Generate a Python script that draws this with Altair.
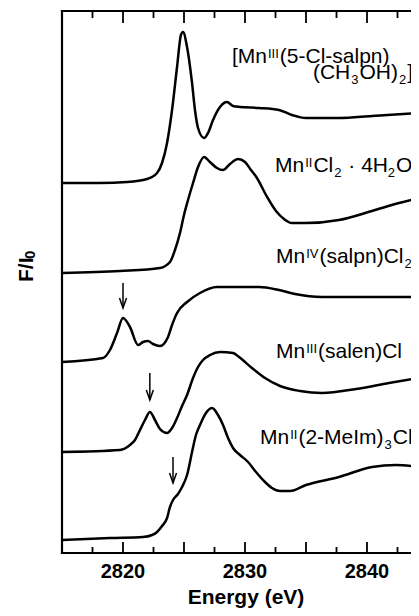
import altair as alt
import pandas as pd

# ---------------- scales / layout ----------------
PX_PER_X = 12.2
W, H = 349, 542
X_MIN = 2815.0
X_MAX = X_MIN + W / PX_PER_X
Y_MIN, Y_MAX = 0.0, 5.42
PX_PER_Y = H / (Y_MAX - Y_MIN)

# ---------------- spectra (energy eV, stacked F/I0) ----------------
names = ["[MnIII(5-Cl-salpn)(CH3OH)2]+", "MnIICl2·4H2O", "MnIV(salpn)Cl2",
         "MnIII(salen)Cl", "MnII(2-MeIm)3Cl2"]

e1 = [2815.00, 2818.11, 2820.33, 2821.97, 2822.79, 2823.20, 2823.61, 2824.02, 2824.43,
      2824.75, 2824.92, 2825.25, 2825.66, 2825.90, 2826.15, 2826.64, 2826.97, 2827.38,
      2827.95, 2828.52, 2829.02, 2829.59, 2831.15, 2832.79, 2833.85, 2835.00, 2837.70,
      2840.41, 2844.26]
f1 = [3.70, 3.70, 3.71, 3.74, 3.80, 3.90, 4.10, 4.43, 4.86, 5.18, 5.21, 5.06, 4.70, 4.43,
      4.25, 4.15, 4.20, 4.33, 4.46, 4.51, 4.47, 4.46, 4.45, 4.43, 4.38, 4.35, 4.35, 4.37, 4.40]

e2 = [2815.00, 2819.75, 2823.03, 2823.85, 2824.26, 2824.67, 2825.00, 2825.33, 2825.74,
      2826.15, 2826.64, 2827.13, 2827.70, 2828.20, 2828.77, 2829.43, 2830.00, 2830.49,
      2830.98, 2831.72, 2832.54, 2833.20, 2833.85, 2835.00, 2837.70, 2840.41, 2842.62,
      2844.26]
f2 = [2.80, 2.82, 2.85, 2.91, 3.03, 3.20, 3.38, 3.53, 3.70, 3.86, 3.96, 3.91, 3.85, 3.83,
      3.89, 3.94, 3.91, 3.83, 3.75, 3.58, 3.42, 3.34, 3.30, 3.30, 3.33, 3.42, 3.50, 3.55]

e3 = [2815.00, 2818.36, 2818.93, 2819.51, 2820.00, 2820.57, 2821.23, 2821.64, 2822.05,
      2822.46, 2823.03, 2823.69, 2824.02, 2824.43, 2825.25, 2826.31, 2827.70, 2829.59,
      2831.15, 2832.79, 2834.10, 2836.31, 2844.26]
f3 = [1.91, 1.95, 2.03, 2.20, 2.35, 2.26, 2.08, 2.11, 2.12, 2.09, 2.07, 2.16, 2.28, 2.40,
      2.51, 2.60, 2.66, 2.66, 2.66, 2.63, 2.59, 2.56, 2.56]

e4 = [2815.00, 2819.75, 2820.57, 2820.98, 2821.39, 2821.80, 2822.21, 2822.62, 2823.03,
      2823.61, 2824.02, 2824.43, 2824.84, 2825.25, 2825.74, 2826.15, 2826.56, 2827.13,
      2827.95, 2829.02, 2829.51, 2830.57, 2831.64, 2832.87, 2834.51, 2836.31, 2839.10,
      2841.80, 2844.26]
f4 = [1.01, 1.03, 1.08, 1.13, 1.23, 1.33, 1.41, 1.33, 1.24, 1.20, 1.25, 1.35, 1.47, 1.58,
      1.75, 1.86, 1.93, 1.98, 2.01, 2.00, 1.96, 1.85, 1.75, 1.67, 1.62, 1.60, 1.64, 1.70, 1.75]

e5 = [2815.00, 2818.93, 2821.64, 2822.38, 2822.79, 2823.20, 2823.61, 2823.85, 2824.10,
      2824.51, 2824.84, 2825.25, 2825.66, 2825.98, 2826.31, 2826.80, 2827.30, 2827.79,
      2828.20, 2828.61, 2829.02, 2829.59, 2830.25, 2830.90, 2831.64, 2832.21, 2832.87,
      2833.69, 2835.00, 2837.70, 2840.41, 2842.38, 2844.26]
f5 = [0.13, 0.15, 0.16, 0.18, 0.21, 0.27, 0.35, 0.46, 0.53, 0.59, 0.66, 0.78, 1.01, 1.18,
      1.28, 1.40, 1.45, 1.38, 1.28, 1.15, 1.05, 0.98, 0.91, 0.81, 0.71, 0.65, 0.62, 0.62,
      0.68, 0.76, 0.86, 0.88, 0.86]

# ---------------- arrows (pre-edge features) ----------------
arrow_e = [2820.0, 2822.2, 2824.1]
arrow_top = [2.70, 1.80, 0.96]
arrow_tip = [2.45, 1.53, 0.70]

# ---------------- ticks ----------------
major_ticks = [2820, 2825, 2830, 2835, 2840]
minor_ticks = [2817.5, 2822.5, 2827.5, 2832.5, 2837.5, 2842.5]
tick_labels = [2820, 2830, 2840]
x_title = "Energy (eV)"

# ---------------- curve labels (0 normal, 1 superscript, -1 subscript) ----------------
label_x = [2828.93, 2835.57, 2832.46, 2832.54, 2832.54, 2831.23]
label_y = [4.90, 4.74, 3.81, 2.90, 1.95, 1.09]
label_parts = [
    [("[Mn", 0), ("III", 1), ("(5-Cl-salpn)", 0)],
    [("(CH", 0), ("3", -1), ("OH)", 0), ("2", -1), ("]", 0), ("+", 1)],
    [("Mn", 0), ("II", 1), ("Cl", 0), ("2", -1), (" · 4H", 0), ("2", -1), ("O", 0)],
    [("Mn", 0), ("IV", 1), ("(salpn)Cl", 0), ("2", -1)],
    [("Mn", 0), ("III", 1), ("(salen)Cl", 0)],
    [("Mn", 0), ("II", 1), ("(2-MeIm)", 0), ("3", -1), ("Cl", 0), ("2", -1)],
]

FS, FS_SMALL = 21, 13
SHIFT = {0: 0.0, 1: 5.5, -1: -4.5}
GAP = 1.0

AW = {'[': 278, ']': 278, 'M': 833, 'n': 556, 'I': 278, '(': 333, ')': 333, '5': 556,
      '-': 333, 'C': 722, 'l': 222, 's': 500, 'a': 556, 'p': 556, 'H': 722, '3': 556,
      'O': 778, '2': 556, '+': 584, '·': 278, ' ': 278, '4': 556, 'V': 667, 'e': 556,
      'm': 833, 'F': 611, '/': 278}


def text_width(s, size):
    return sum(AW.get(c, 556) for c in s) * size / 1000.0


seg_rows = []
for lx, ly, parts in zip(label_x, label_y, label_parts):
    cum = 0.0
    for txt, kind in parts:
        size = FS if kind == 0 else FS_SMALL
        stripped = txt.lstrip(" ")
        cum += text_width(txt[:len(txt) - len(stripped)], size)
        if kind != 0:
            cum += GAP
        seg_rows.append({"energy": lx + cum / PX_PER_X,
                         "f": ly + SHIFT[kind] / PX_PER_Y,
                         "txt": stripped, "size": size})
        cum += text_width(stripped, size)
        if kind != 0:
            cum += GAP
segments = pd.DataFrame(seg_rows)

# ---------------- data frames ----------------
rows = []
for nm, es, fs in zip(names, [e1, e2, e3, e4, e5], [f1, f2, f3, f4, f5]):
    for i, (e, f) in enumerate(zip(es, fs)):
        rows.append({"series": nm, "order": i, "energy": e, "f": f})
curves = pd.DataFrame(rows)

arrows = pd.DataFrame({"energy": arrow_e, "top": arrow_top, "tip": arrow_tip})
majors = pd.DataFrame({"energy": major_ticks})
minors = pd.DataFrame({"energy": minor_ticks})
tlabels = pd.DataFrame({"energy": tick_labels, "txt": [str(t) for t in tick_labels]})
one = pd.DataFrame({"a": [0]})

xs = alt.Scale(domain=[X_MIN, X_MAX], nice=False, zero=False)
ys = alt.Scale(domain=[Y_MIN, Y_MAX], nice=False, zero=False)

FONT = "Liberation Sans"

lines = alt.Chart(curves).mark_line(
    color="black", strokeWidth=2.5, interpolate="monotone"
).encode(
    x=alt.X("energy:Q", scale=xs, axis=None),
    y=alt.Y("f:Q", scale=ys, axis=None),
    detail="series:N",
    order="order:Q",
)

shafts = alt.Chart(arrows).mark_rule(color="black", strokeWidth=1.5).encode(
    x=alt.X("energy:Q", scale=xs, axis=None),
    y=alt.Y("top:Q", scale=ys, axis=None),
    y2="tip:Q",
)
heads = alt.Chart(arrows).mark_point(
    shape="M-0.35,-1L0,0L0.35,-1", size=400, filled=False, color="black",
    strokeWidth=1.5, opacity=1
).encode(
    x=alt.X("energy:Q", scale=xs, axis=None),
    y=alt.Y("tip:Q", scale=ys, axis=None),
)

labels = alt.Chart(segments).mark_text(
    align="left", baseline="alphabetic", font=FONT, color="black"
).encode(
    x=alt.X("energy:Q", scale=xs, axis=None),
    y=alt.Y("f:Q", scale=ys, axis=None),
    text="txt:N",
    size=alt.Size("size:Q", scale=None),
)

xtick_text = alt.Chart(tlabels).mark_text(
    align="center", baseline="alphabetic", font=FONT, fontWeight="bold",
    fontSize=20, color="black"
).encode(
    x=alt.X("energy:Q", scale=xs, axis=None),
    y=alt.value(H + 25),
    text="txt:N",
)

xtitle = alt.Chart(one).mark_text(
    align="center", baseline="alphabetic", font=FONT, fontWeight="bold",
    fontSize=21, color="black", text=x_title
).encode(x=alt.value(184), y=alt.value(H + 51))

ytitle = alt.Chart(pd.DataFrame({
    "px": [-29, -27], "py": [271, 271 - text_width("F/I", 21) + 1.5],
    "txt": ["F/I", "0"], "size": [21, 15]})).mark_text(
    align="left", baseline="alphabetic", font=FONT, fontWeight="bold",
    angle=270, color="black"
).encode(
    x=alt.X("px:Q", scale=None, axis=None),
    y=alt.Y("py:Q", scale=None, axis=None),
    text="txt:N",
    size=alt.Size("size:Q", scale=None),
)

FW = 2.2
frame_top = alt.Chart(one).mark_rule(color="black", strokeWidth=FW, strokeCap="square").encode(
    x=alt.value(0), x2=alt.value(W + 2), y=alt.value(0))
frame_left = alt.Chart(one).mark_rule(color="black", strokeWidth=FW, strokeCap="square").encode(
    x=alt.value(0), y=alt.value(0), y2=alt.value(H))
frame_bottom = alt.Chart(one).mark_rule(color="black", strokeWidth=FW, strokeCap="square").encode(
    x=alt.value(0), x2=alt.value(W + 2), y=alt.value(H))


def tick_layer(df, y0, y1):
    return alt.Chart(df).mark_rule(color="black", strokeWidth=1.8).encode(
        x=alt.X("energy:Q", scale=xs, axis=None),
        y=alt.value(y0), y2=alt.value(y1))


ticks = [tick_layer(majors, H, H - 11), tick_layer(minors, H, H - 6),
         tick_layer(majors, 0, 12), tick_layer(minors, 0, 7)]

chart = alt.layer(
    lines, shafts, heads, labels, xtick_text, xtitle, ytitle,
    frame_top, frame_left, frame_bottom, *ticks
).properties(
    width=W, height=H,
    padding={"left": 54, "top": 3, "right": 0, "bottom": 55},
    autosize=alt.AutoSizeParams(type="none"),
).configure_view(stroke=None).configure(background="white")

chart.save("out.html", embed_options={"renderer": "svg", "actions": False})
